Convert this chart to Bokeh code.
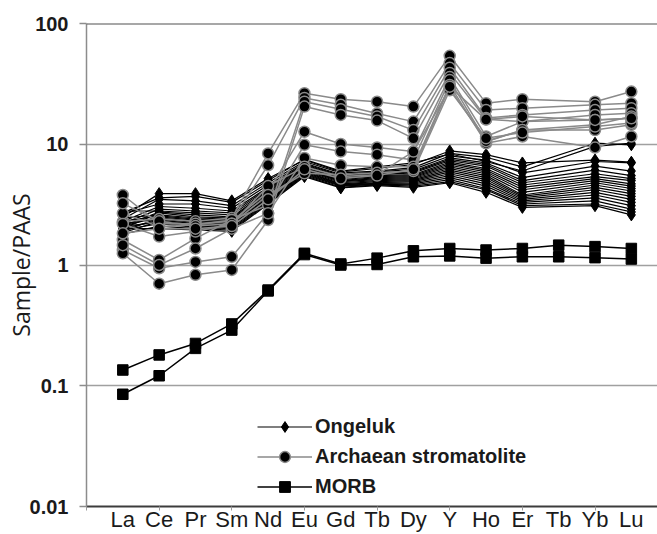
from bokeh.plotting import figure
from bokeh.models import Range1d, FixedTicker, Span, Legend, LegendItem, ColumnDataSource
from bokeh.embed import file_html
from bokeh.resources import INLINE

# ---------------- data ----------------
ELEMENTS = ["La", "Ce", "Pr", "Sm", "Nd", "Eu", "Gd", "Tb", "Dy", "Y", "Ho", "Er", "Tb", "Yb", "Lu"]
X_ALL = list(range(1, 16))                              # all 15 categories
X_NO_TM = [1, 2, 3, 4, 5, 6, 7, 8, 9, 10, 11, 12, 14, 15]  # samples without the 13th element

# Ongeluk (values for La..Er, Yb, Lu)
ONG_01 = [2.50, 3.90, 3.90, 3.40, 5.20, 7.4, 5.9, 6.3, 6.8, 8.8, 8.2, 7.0, 7.4, 7.1]
ONG_02 = [2.40, 3.50, 3.40, 3.10, 4.80, 7.2, 5.8, 6.0, 6.4, 8.4, 7.8, 6.5, 10.2, 9.9]
ONG_03 = [2.65, 3.20, 3.20, 2.95, 4.60, 7.0, 5.6, 5.9, 6.2, 8.0, 7.4, 5.8, 7.2, 7.0]
ONG_04 = [2.30, 3.05, 2.95, 2.80, 4.40, 6.9, 5.5, 5.8, 6.0, 7.7, 7.0, 5.3, 6.6, 6.0]
ONG_05 = [2.20, 2.90, 2.80, 2.70, 4.30, 6.8, 5.4, 5.7, 5.9, 7.5, 6.8, 5.0, 6.1, 5.5]
ONG_06 = [2.80, 2.80, 2.70, 2.60, 4.20, 6.7, 5.3, 5.6, 5.8, 7.3, 6.6, 4.8, 5.7, 5.2]
ONG_07 = [2.10, 2.75, 2.60, 2.50, 4.10, 6.6, 5.2, 5.5, 5.6, 7.1, 6.3, 4.6, 5.4, 5.0]
ONG_08 = [2.00, 2.70, 2.50, 2.45, 4.00, 6.5, 5.1, 5.4, 5.5, 6.9, 6.1, 4.4, 5.2, 4.7]
ONG_09 = [2.45, 2.60, 2.45, 2.40, 3.90, 6.4, 5.0, 5.3, 5.4, 6.7, 5.9, 4.2, 5.0, 4.5]
ONG_10 = [2.30, 2.55, 2.40, 2.35, 3.80, 6.3, 4.95, 5.2, 5.3, 6.5, 5.7, 4.0, 4.8, 4.3]
ONG_11 = [2.10, 2.50, 2.35, 2.30, 3.70, 6.2, 4.9, 5.1, 5.2, 6.3, 5.5, 3.8, 4.6, 4.1]
ONG_12 = [1.90, 2.45, 2.30, 2.25, 3.60, 6.1, 4.8, 5.0, 5.1, 6.1, 5.3, 3.7, 4.4, 3.9]
ONG_13 = [2.20, 2.40, 2.25, 2.20, 3.55, 6.0, 4.7, 4.9, 5.0, 5.9, 5.1, 3.6, 4.2, 3.7]
ONG_14 = [2.00, 2.35, 2.20, 2.15, 3.50, 5.9, 4.65, 4.8, 4.9, 5.7, 4.9, 3.5, 4.0, 3.5]
ONG_15 = [1.85, 2.30, 2.15, 2.10, 3.40, 5.8, 4.6, 4.75, 4.8, 5.5, 4.7, 3.4, 3.8, 3.3]
ONG_16 = [2.10, 2.25, 2.10, 2.05, 3.35, 5.7, 4.55, 4.7, 4.7, 5.3, 4.5, 3.3, 3.6, 3.1]
ONG_17 = [1.95, 2.20, 2.05, 2.00, 3.30, 5.6, 4.5, 4.65, 4.6, 5.1, 4.3, 3.2, 3.4, 2.9]
ONG_18 = [1.80, 2.10, 2.00, 1.95, 3.25, 5.5, 4.4, 4.6, 4.5, 4.9, 4.2, 3.1, 3.2, 2.75]
ONG_19 = [2.00, 2.00, 1.95, 1.90, 3.20, 5.4, 4.35, 4.55, 4.4, 4.8, 4.0, 3.0, 3.1, 2.6]
ONG_20 = [2.70, 3.60, 3.70, 3.30, 5.00, 7.5, 6.0, 6.5, 7.0, 8.3, 7.2, 6.0, 9.6, 10.2]
ONGELUK = [ONG_01, ONG_02, ONG_03, ONG_04, ONG_05, ONG_06, ONG_07, ONG_08, ONG_09, ONG_10,
           ONG_11, ONG_12, ONG_13, ONG_14, ONG_15, ONG_16, ONG_17, ONG_18, ONG_19, ONG_20]

# Archaean stromatolite (values for La..Er, Yb, Lu)
ARC_01 = [2.29, 2.40, 2.30, 2.45, 8.40, 26.5, 23.6, 22.5, 20.5, 54.0, 21.9, 23.6, 22.5, 27.3]
ARC_02 = [2.68, 2.08, 2.14, 2.36, 6.70, 24.2, 21.2, 18.0, 15.4, 47.0, 19.2, 19.9, 21.2, 21.9]
ARC_03 = [1.33, 0.94, 1.06, 1.17, 2.68, 22.5, 19.5, 17.0, 13.1, 43.0, 16.5, 17.5, 19.2, 19.9]
ARC_04 = [1.25, 0.70, 0.83, 0.91, 2.36, 20.5, 17.5, 15.7, 11.2, 39.0, 16.1, 15.4, 17.5, 18.1]
ARC_05 = [3.80, 2.20, 2.20, 2.30, 4.05, 12.7, 10.05, 9.4, 8.7, 36.0, 11.6, 15.4, 15.9, 16.4]
ARC_06 = [1.61, 1.10, 1.66, 2.36, 3.14, 9.9, 8.7, 8.2, 7.4, 34.0, 10.5, 13.1, 14.5, 17.0]
ARC_07 = [1.46, 1.00, 1.37, 2.00, 2.68, 7.7, 6.7, 6.5, 6.5, 31.0, 10.2, 11.6, 9.4, 11.6]
ARC_08 = [3.24, 2.30, 2.10, 2.20, 4.50, 6.5, 5.4, 5.6, 8.7, 29.0, 10.6, 13.1, 13.1, 14.5]
ARC_09 = [2.19, 1.72, 1.89, 2.20, 3.80, 5.75, 5.6, 5.8, 6.0, 28.0, 11.2, 12.5, 14.0, 15.0]
ARC_10 = [1.83, 2.00, 2.00, 2.10, 3.50, 6.2, 5.2, 5.5, 6.2, 30.0, 16.0, 17.0, 15.9, 16.4]
ARCHAEAN = [ARC_01, ARC_02, ARC_03, ARC_04, ARC_05, ARC_06, ARC_07, ARC_08, ARC_09, ARC_10]

# MORB (all 15 elements)
MORB_1 = [0.135, 0.180, 0.224, 0.325, 0.62, 1.25, 1.02, 1.14, 1.31, 1.37, 1.33, 1.37, 1.46, 1.42, 1.37]
MORB_2 = [0.085, 0.121, 0.204, 0.289, 0.61, 1.22, 1.00, 1.01, 1.17, 1.19, 1.14, 1.17, 1.17, 1.15, 1.12]
MORB = [MORB_1, MORB_2]

Y_TICKS = [0.01, 0.1, 1, 10, 100]
Y_TICK_LABELS = ["0.01", "0.1", "1", "10", "100"]

# ---------------- figure ----------------
p = figure(width=657, height=534,
           x_range=Range1d(0, 15.72), y_range=Range1d(0.01, 100),
           y_axis_type="log", output_backend="svg", toolbar_location=None,
           min_border_left=86, min_border_right=0, min_border_top=23, min_border_bottom=28,
           background_fill_color="white", border_fill_color="white",
           outline_line_color=None)

# y axis
yax = p.yaxis[0]
yax.ticker = FixedTicker(ticks=Y_TICKS)
yax.major_label_overrides = {t: l for t, l in zip(Y_TICKS, Y_TICK_LABELS)}
yax.major_label_text_font = "Liberation Sans"
yax.major_label_text_font_style = "bold"
yax.major_label_text_font_size = "20px"
yax.major_label_text_color = "#1a1a1a"
yax.major_label_standoff = 11
yax.major_tick_out = 7
yax.major_tick_in = 0
yax.major_tick_line_color = "#8c8c8c"
yax.major_tick_line_width = 1.5
yax.minor_tick_line_color = None
yax.axis_line_color = "#8c8c8c"
yax.axis_line_width = 1.5
yax.axis_label = "Sample/PAAS"
yax.axis_label_text_font = "Open Sans"
yax.axis_label_text_font_style = "normal"
yax.axis_label_text_font_size = "23px"
yax.axis_label_text_color = "#1a1a1a"
yax.axis_label_standoff = -10

# x axis
xax = p.xaxis[0]
xax.ticker = FixedTicker(ticks=X_ALL, minor_ticks=[0, 2, 4, 6, 8, 10, 12, 14])
xax.major_label_overrides = {i: e for i, e in zip(X_ALL, ELEMENTS)}
xax.major_label_text_font = "Liberation Sans"
xax.major_label_text_font_size = "22px"
xax.major_label_text_color = "#1a1a1a"
xax.major_label_standoff = -4
xax.major_tick_line_color = None
xax.major_tick_out = 0
xax.major_tick_in = 0
xax.minor_tick_line_color = "#9a9a9a"
xax.minor_tick_out = 4
xax.minor_tick_in = 0
xax.axis_line_color = "#3c3c3c"
xax.axis_line_width = 2

# grid
p.xgrid.visible = False
p.ygrid.ticker = FixedTicker(ticks=[0.1, 1, 10])
p.ygrid.grid_line_color = "#a0a0a0"
p.ygrid.grid_line_width = 1.5

p.add_layout(Span(location=100, dimension="width", line_color="#505050", line_width=2))

# ---------------- series ----------------
ong_r = []
for vals in ONGELUK:
    src = ColumnDataSource(dict(x=X_NO_TM, y=vals))
    l = p.line("x", "y", source=src, line_color="black", line_width=1.2)
    s = p.scatter("x", "y", source=src, marker="diamond", size=12,
                  fill_color="black", line_color="black", line_width=1)
    ong_r.append((l, s))

arc_r = []
for vals in ARCHAEAN:
    src = ColumnDataSource(dict(x=X_NO_TM, y=vals))
    l = p.line("x", "y", source=src, line_color="#8a8a8a", line_width=1.5)
    s = p.scatter("x", "y", source=src, marker="circle", size=11,
                  fill_color="black", line_color="#8a8a8a", line_width=1.5)
    arc_r.append((l, s))

morb_r = []
for vals in MORB:
    src = ColumnDataSource(dict(x=X_ALL, y=vals))
    l = p.line("x", "y", source=src, line_color="black", line_width=1.5)
    s = p.scatter("x", "y", source=src, marker="square", size=10.5,
                  fill_color="black", line_color="black", line_width=1)
    morb_r.append((l, s))

legend = Legend(items=[
    LegendItem(label="Ongeluk", renderers=list(ong_r[0])),
    LegendItem(label="Archaean stromatolite", renderers=list(arc_r[0])),
    LegendItem(label="MORB", renderers=list(morb_r[0])),
], location=(171, 6), orientation="vertical",
    glyph_width=55, glyph_height=27, spacing=3, padding=0, margin=0,
    label_standoff=3, border_line_color=None, background_fill_alpha=0,
    label_text_font="Liberation Sans", label_text_font_style="bold",
    label_text_font_size="20px", label_text_color="#1a1a1a")
p.add_layout(legend)

open("out.html", "w").write(file_html(p, INLINE))
